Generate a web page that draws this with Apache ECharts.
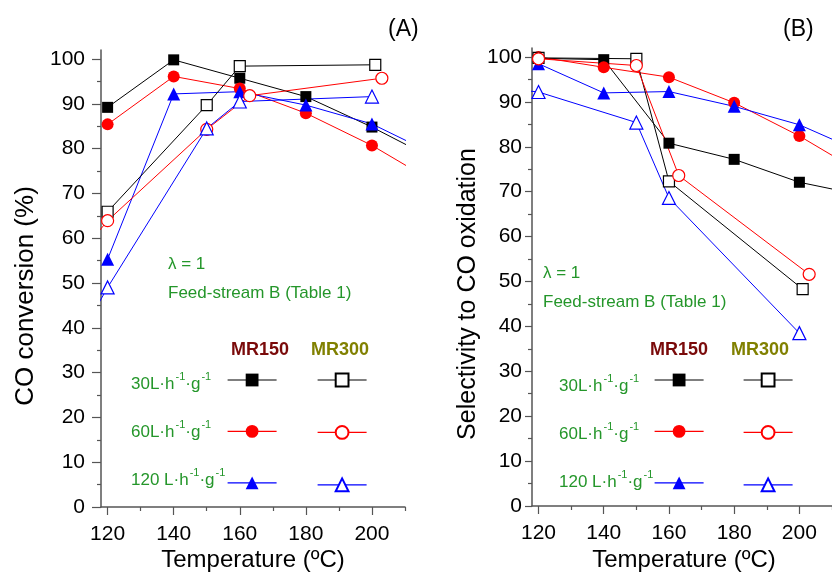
<!DOCTYPE html>
<html><head><meta charset="utf-8">
<script src="https://cdn.jsdelivr.net/npm/echarts@6/dist/echarts.min.js"></script>
<style>html,body{margin:0;padding:0;background:#fff}#c{width:832px;height:581px}</style>
</head><body><div id="c"></div>
<script>
// ---- Data (temperatures in ºC) ----
const tempsMR150 = [120, 140, 160, 180, 200, 220];
// Panel A: CO conversion (%)
const convMR150_30  = [89.2, 99.8, 95.7, 91.6, 84.8, 77.2];
const convMR150_60  = [85.4, 96.1, 93.4, 87.9, 80.7, 72.0];
const convMR150_120 = [55.3, 92.2, 92.7, 89.7, 85.5, 78.3];
const convTempsMR300_30  = [120, 150, 160, 201];
const convMR300_30       = [65.9, 89.7, 98.4, 98.7];
const convTempsMR300_60  = [110, 120, 150, 163, 203];
const convMR300_60       = [55.0, 63.9, 84.3, 91.8, 95.7];
const convTempsMR300_120 = [110, 120, 150, 160, 200];
const convMR300_120      = [36.0, 49.0, 84.5, 90.5, 91.6];
// Panel B: Selectivity to CO oxidation (%)
const selMR150_30  = [99.7, 99.4, 80.8, 77.2, 72.1, 69.1];
const selMR150_60  = [100.0, 97.7, 95.5, 89.8, 82.4, 73.8];
const selMR150_120 = [98.5, 92.0, 92.3, 89.0, 84.9, 78.5];
const selTempsMR300_30  = [120, 150, 160, 201];
const selMR300_30       = [99.8, 99.6, 72.3, 48.3];
const selTempsMR300_60  = [120, 150, 163, 203];
const selMR300_60       = [99.6, 98.1, 73.6, 51.6];
const selTempsMR300_120 = [110, 120, 150, 160, 200];
const selMR300_120      = [93.0, 92.2, 85.4, 68.6, 38.5];
// Axis ticks
const xMajorTicks = [120, 140, 160, 180, 200];
const xMinorTicks = [130, 150, 170, 190, 210];
const yMajorTicks = [0, 10, 20, 30, 40, 50, 60, 70, 80, 90, 100];
const yMinorTicks = [5, 15, 25, 35, 45, 55, 65, 75, 85, 95];
const rowLabels = ['30L·h', '60L·h', '120 L·h'];

const FONT = 'Liberation Sans, Arial, sans-serif';
const GREEN = '#24962a';
const AXC = '#555';

function pairs(xs, ys) { return xs.map((x, i) => [x, ys[i]]); }
function mk(name, xs, ys, gi, symbol, filled, color, size) {
  return {
    name, type: 'line', xAxisIndex: gi * 2, yAxisIndex: gi * 2,
    data: pairs(xs, ys), symbol, symbolSize: size, clip: true,
    lineStyle: { color, width: 1 },
    itemStyle: filled ? { color, borderWidth: 0 } : { color: '#fff', borderColor: color, borderWidth: 1.2 },
    emphasis: { disabled: true }, animation: false
  };
}
const series = [
  mk('A150_30', tempsMR150, convMR150_30, 0, 'rect', true, '#000', 11),
  mk('A150_60', tempsMR150, convMR150_60, 0, 'circle', true, '#ff0000', 12),
  mk('A150_120', tempsMR150, convMR150_120, 0, 'triangle', true, '#0000ff', 13),
  mk('A300_30', convTempsMR300_30, convMR300_30, 0, 'rect', false, '#000', 11),
  mk('A300_60', convTempsMR300_60, convMR300_60, 0, 'circle', false, '#ff0000', 12),
  mk('A300_120', convTempsMR300_120, convMR300_120, 0, 'triangle', false, '#0000ff', 13),
  mk('B150_30', tempsMR150, selMR150_30, 1, 'rect', true, '#000', 11),
  mk('B150_60', tempsMR150, selMR150_60, 1, 'circle', true, '#ff0000', 12),
  mk('B150_120', tempsMR150, selMR150_120, 1, 'triangle', true, '#0000ff', 13),
  mk('B300_30', selTempsMR300_30, selMR300_30, 1, 'rect', false, '#000', 11),
  mk('B300_60', selTempsMR300_60, selMR300_60, 1, 'circle', false, '#ff0000', 12),
  mk('B300_120', selTempsMR300_120, selMR300_120, 1, 'triangle', false, '#0000ff', 13)
];

function xAxes(gi) {
  return [{
    type: 'value', gridIndex: gi, min: 118, max: 210,
    axisLine: { show: true, onZero: false, lineStyle: { color: AXC, width: 1.5 } },
    axisTick: { show: true, inside: false, length: 8, customValues: xMajorTicks, lineStyle: { color: AXC, width: 1.2 } },
    axisLabel: { show: true, customValues: xMajorTicks, margin: 17, color: '#000', fontSize: 21, fontFamily: FONT },
    splitLine: { show: false }
  }, {
    type: 'value', gridIndex: gi, min: 118, max: 210, position: 'bottom',
    axisLine: { show: false },
    axisTick: { show: true, inside: false, length: 4, customValues: xMinorTicks, lineStyle: { color: AXC, width: 1.2 } },
    axisLabel: { show: false }, splitLine: { show: false }
  }];
}
function yAxes(gi, tickLen, margin) {
  return [{
    type: 'value', gridIndex: gi, min: 0, max: 102,
    axisLine: { show: true, onZero: false, lineStyle: { color: AXC, width: 1.5 } },
    axisTick: { show: true, inside: false, length: tickLen, customValues: yMajorTicks, lineStyle: { color: AXC, width: 1.2 } },
    axisLabel: { show: true, customValues: yMajorTicks, margin, color: '#000', fontSize: 21, fontFamily: FONT },
    splitLine: { show: false }
  }, {
    type: 'value', gridIndex: gi, min: 0, max: 102, position: 'left',
    axisLine: { show: false },
    axisTick: { show: true, inside: false, length: 4, customValues: yMinorTicks, lineStyle: { color: AXC, width: 1.2 } },
    axisLabel: { show: false }, splitLine: { show: false }
  }];
}

function legendCol(names, left) {
  return {
    data: names, left, top: 372, orient: 'vertical', itemWidth: 49, itemHeight: 16,
    itemGap: 37, padding: 0, selectedMode: false, formatter: () => '',
    textStyle: { fontSize: 1 }, lineStyle: { width: 1.2 }
  };
}

const richStyle = {
  n: { fontSize: 17, fontFamily: FONT, fill: GREEN, color: GREEN, lineHeight: 22, verticalAlign: 'bottom' },
  s: { fontSize: 11, fontFamily: FONT, fill: GREEN, color: GREEN, lineHeight: 22, verticalAlign: 'top', padding: [0, 0, 0, 1] }
};
function rowLabel(txt, x, y) {
  return {
    type: 'text', x, y, silent: true,
    style: {
      text: '{n|' + txt + '}{s|-1}{n|·g}{s|-1}', rich: richStyle,
      fill: GREEN, verticalAlign: 'middle', align: 'left'
    }
  };
}
function txt(t, x, y, font, color, opts) {
  return Object.assign({
    type: 'text', x, y, silent: true,
    style: Object.assign({ text: t, fill: color, font: font + ' ' + FONT, align: 'left', verticalAlign: 'middle' }, (opts && opts.style) || {})
  }, (opts && opts.el) || {});
}

const graphics = [
  txt('(A)', 388, 30, '23px', '#000'),
  txt('(B)', 783, 30, '23px', '#000'),
  txt('Temperature (ºC)', 253, 560, '24px', '#000', { style: { align: 'center' } }),
  txt('Temperature (ºC)', 684, 560, '24px', '#000', { style: { align: 'center' } }),
  txt('CO conversion (%)', 26, 296, '26px', '#000', { style: { align: 'center' }, el: { rotation: Math.PI / 2 } }),
  txt('Selectivity to CO oxidation', 468, 294, '25px', '#000', { style: { align: 'center' }, el: { rotation: Math.PI / 2 } }),
  // panel A annotations
  txt('λ = 1', 168, 264, '17px', GREEN),
  txt('Feed-stream B (Table 1)', 168, 293, '17px', GREEN),
  txt('MR150', 231, 350, 'bold 18px', '#7a0a0a'),
  txt('MR300', 311, 350, 'bold 18px', '#808000'),
  rowLabel(rowLabels[0], 131, 382),
  rowLabel(rowLabels[1], 131, 430),
  rowLabel(rowLabels[2], 131, 478),
  // panel B annotations
  txt('λ = 1', 543, 273, '17px', GREEN),
  txt('Feed-stream B (Table 1)', 543, 302, '17px', GREEN),
  txt('MR150', 650, 350, 'bold 18px', '#7a0a0a'),
  txt('MR300', 731, 350, 'bold 18px', '#808000'),
  rowLabel(rowLabels[0], 559, 384),
  rowLabel(rowLabels[1], 559, 432),
  rowLabel(rowLabels[2], 559, 480)
];

const option = {
  backgroundColor: '#fff',
  animation: false,
  grid: [
    { left: 101, top: 50, width: 304, height: 457 },
    { left: 532, top: 48, width: 304, height: 458 }
  ],
  xAxis: [...xAxes(0), ...xAxes(1)],
  yAxis: [...yAxes(0, 9, 16), ...yAxes(1, 7, 10)],
  legend: [
    legendCol(['A150_30', 'A150_60', 'A150_120'], 227),
    legendCol(['A300_30', 'A300_60', 'A300_120'], 317),
    legendCol(['B150_30', 'B150_60', 'B150_120'], 654),
    legendCol(['B300_30', 'B300_60', 'B300_120'], 743)
  ],
  graphic: graphics,
  series
};
const chart = echarts.init(document.getElementById('c'), null, { renderer: 'canvas' });
chart.setOption(option);
</script>
</body></html>
